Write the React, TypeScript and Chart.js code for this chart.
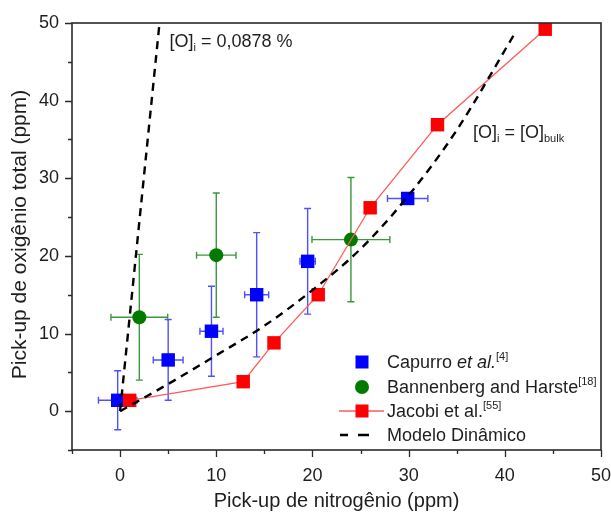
import React, { useEffect, useRef } from 'react';
import { Chart, registerables } from 'chart.js';

Chart.register(...registerables);

// Capurro et al. — blue squares with x/y error bars
const capurroX = [-0.25, 5.0, 9.5, 14.2, 19.5, 29.9];
const capurroY = [1.4, 6.6, 10.3, 15.0, 19.3, 27.4];
const capurroXErr = [2.0, 1.55, 1.2, 1.25, 0.8, 2.1];
const capurroYErr = [3.8, 5.2, 5.8, 8.0, 6.8, 0];

// Bannenberg and Harste — green circles with x/y error bars
const bannenbergX = [2.0, 10.0, 24.0];
const bannenbergY = [12.1, 20.1, 22.1];
const bannenbergXErr = [2.95, 2.05, 4.05];
const bannenbergYErr = [8.1, 8.0, 8.0];

// Jacobi et al. — red squares joined by a line
const jacobiX = [1.0, 12.8, 16.0, 20.6, 26.0, 33.0, 44.2];
const jacobiY = [1.4, 3.8, 8.8, 15.0, 26.2, 36.9, 49.2];

// Modelo dinâmico, [O]i = [O]bulk
const modelX = [0, 5, 10, 15, 20, 25, 30, 35, 41.2];
const modelY = [0, 3.5, 7.2, 11.0, 15.6, 20.9, 27.8, 36.2, 49.0];

// Modelo dinâmico, [O]i = 0,0878 %
const steepX = [0, 4.1];
const steepY = [0, 50];

// Axes
const xRange = [-5, 50];
const yRange = [-5, 50];
const xTicks = [-5, 0, 5, 10, 15, 20, 25, 30, 35, 40, 45, 50];
const yTicks = [-5, 0, 5, 10, 15, 20, 25, 30, 35, 40, 45, 50];
const xTickLabels = [0, 10, 20, 30, 40, 50];
const yTickLabels = [0, 10, 20, 30, 40, 50];

const xTitle = 'Pick-up de nitrogênio (ppm)';
const yTitle = 'Pick-up de oxigênio total (ppm)';

const FONT = '"Liberation Sans", Arial, Helvetica, sans-serif';
const TEXT = '#1e1e1e';
const BLUE = '#0000ff';
const BLUE_ERR = '#5050ff';
const GREEN = '#007a00';
const GREEN_ERR = '#3c963c';
const RED = '#ff0000';
const RED_LINE = '#ff5a5a';

const pts = (xs: number[], ys: number[]) => xs.map((x, i) => ({ x, y: ys[i] }));

type Seg = { t: string; size: number; style?: string; dy?: number };

function drawRich(ctx: CanvasRenderingContext2D, segs: Seg[], x: number, y: number) {
  let cx = x;
  ctx.textAlign = 'left';
  ctx.textBaseline = 'alphabetic';
  for (const s of segs) {
    ctx.font = `${s.style ? s.style + ' ' : ''}${s.size}px ${FONT}`;
    ctx.fillText(s.t, cx, y + (s.dy || 0));
    cx += ctx.measureText(s.t).width;
  }
}

function drawErrorBars(
  chart: any,
  xs: number[], ys: number[], xe: number[], ye: number[], color: string
) {
  const ctx: CanvasRenderingContext2D = chart.ctx;
  const sx = chart.scales.x;
  const sy = chart.scales.y;
  const cap = 3.5;
  ctx.save();
  ctx.strokeStyle = color;
  ctx.lineWidth = 1.4;
  xs.forEach((x, i) => {
    const px = sx.getPixelForValue(x);
    const py = sy.getPixelForValue(ys[i]);
    if (ye[i] > 0) {
      const t = sy.getPixelForValue(ys[i] + ye[i]);
      const b = sy.getPixelForValue(ys[i] - ye[i]);
      ctx.beginPath();
      ctx.moveTo(px, t); ctx.lineTo(px, b);
      ctx.moveTo(px - cap, t); ctx.lineTo(px + cap, t);
      ctx.moveTo(px - cap, b); ctx.lineTo(px + cap, b);
      ctx.stroke();
    }
    if (xe[i] > 0) {
      const l = sx.getPixelForValue(x - xe[i]);
      const r = sx.getPixelForValue(x + xe[i]);
      ctx.beginPath();
      ctx.moveTo(l, py); ctx.lineTo(r, py);
      ctx.moveTo(l, py - cap); ctx.lineTo(l, py + cap);
      ctx.moveTo(r, py - cap); ctx.lineTo(r, py + cap);
      ctx.stroke();
    }
  });
  ctx.restore();
}

const errorBarPlugin = {
  id: 'errorBars',
  beforeDatasetsDraw(chart: any) {
    drawErrorBars(chart, capurroX, capurroY, capurroXErr, capurroYErr, BLUE_ERR);
    drawErrorBars(chart, bannenbergX, bannenbergY, bannenbergXErr, bannenbergYErr, GREEN_ERR);
  },
};

const framePlugin = {
  id: 'frame',
  afterDatasetsDraw(chart: any) {
    const ctx: CanvasRenderingContext2D = chart.ctx;
    const { left, right, top, bottom } = chart.chartArea;
    const sx = chart.scales.x;
    const sy = chart.scales.y;
    ctx.save();

    // Axis box
    ctx.strokeStyle = '#2a2a2a';
    ctx.lineWidth = 1.6;
    ctx.strokeRect(left, top, right - left, bottom - top);

    // Tick marks (outside, major every 10)
    ctx.lineWidth = 1.3;
    ctx.beginPath();
    xTicks.forEach((v) => {
      const px = Math.round(sx.getPixelForValue(v)) + 0.5;
      const len = v % 10 === 0 ? 7 : 4;
      ctx.moveTo(px, bottom); ctx.lineTo(px, bottom + len);
    });
    yTicks.forEach((v) => {
      const py = Math.round(sy.getPixelForValue(v)) + 0.5;
      const len = v % 10 === 0 ? 7 : 4;
      ctx.moveTo(left, py); ctx.lineTo(left - len, py);
    });
    ctx.stroke();

    // Tick labels
    ctx.fillStyle = TEXT;
    ctx.font = `18px ${FONT}`;
    ctx.textAlign = 'center';
    ctx.textBaseline = 'middle';
    xTickLabels.forEach((v) => ctx.fillText(String(v), sx.getPixelForValue(v), bottom + 26));
    ctx.textAlign = 'right';
    yTickLabels.forEach((v) => ctx.fillText(String(v), left - 13, sy.getPixelForValue(v)));

    // Axis titles
    ctx.font = `20px ${FONT}`;
    ctx.textAlign = 'center';
    ctx.fillText(xTitle, (left + right) / 2, bottom + 51);
    ctx.save();
    ctx.font = `21px ${FONT}`;
    ctx.translate(20, (top + bottom) / 2 - 2);
    ctx.rotate(-Math.PI / 2);
    ctx.fillText(yTitle, 0, 0);
    ctx.restore();

    // Line annotations
    drawRich(ctx, [
      { t: '[O]', size: 18 },
      { t: 'i', size: 11, dy: 4 },
      { t: ' = 0,0878 %', size: 18 },
    ], sx.getPixelForValue(steepX[1]) + 10, top + 24);
    drawRich(ctx, [
      { t: '[O]', size: 18 },
      { t: 'i', size: 11, dy: 4 },
      { t: ' = [O]', size: 18 },
      { t: 'bulk', size: 11, dy: 4 },
    ], 473, 138);

    // Legend
    const mx = 362;
    const tx = 387;
    const rows = [362, 387, 411, 435];
    // Capurro
    ctx.fillStyle = BLUE;
    ctx.fillRect(mx - 6.5, rows[0] - 6.5, 13, 13);
    // Bannenberg
    ctx.fillStyle = GREEN;
    ctx.beginPath();
    ctx.arc(mx, rows[1], 7, 0, Math.PI * 2);
    ctx.fill();
    // Jacobi
    ctx.strokeStyle = RED_LINE;
    ctx.lineWidth = 1.3;
    ctx.beginPath();
    ctx.moveTo(339, rows[2]); ctx.lineTo(384, rows[2]);
    ctx.stroke();
    ctx.fillStyle = RED;
    ctx.fillRect(mx - 6.5, rows[2] - 6.5, 13, 13);
    // Modelo
    ctx.strokeStyle = '#000';
    ctx.lineWidth = 2.4;
    ctx.beginPath();
    ctx.moveTo(340, rows[3]); ctx.lineTo(348, rows[3]);
    ctx.moveTo(358, rows[3]); ctx.lineTo(369, rows[3]);
    ctx.stroke();

    ctx.fillStyle = TEXT;
    const base = 6;
    drawRich(ctx, [
      { t: 'Capurro ', size: 18 },
      { t: 'et al.', size: 18, style: 'italic' },
      { t: '[4]', size: 11, dy: -8 },
    ], tx, rows[0] + base);
    drawRich(ctx, [
      { t: 'Bannenberg and Harste', size: 18 },
      { t: '[18]', size: 11, dy: -8 },
    ], tx, rows[1] + base);
    drawRich(ctx, [
      { t: 'Jacobi et al.', size: 18 },
      { t: '[55]', size: 11, dy: -8 },
    ], tx, rows[2] + base);
    drawRich(ctx, [{ t: 'Modelo Dinâmico', size: 18 }], tx, rows[3] + base);

    ctx.restore();
  },
};

export default function App() {
  const ref = useRef<HTMLCanvasElement>(null);

  useEffect(() => {
    if (!ref.current) return;
    const chart = new Chart(ref.current, {
      type: 'scatter',
      data: {
        datasets: [
          {
            label: 'Modelo Dinâmico',
            type: 'line',
            data: pts(modelX, modelY),
            borderColor: '#000',
            borderWidth: 2.4,
            borderDash: [8, 6],
            pointRadius: 0,
            cubicInterpolationMode: 'monotone',
            order: 0,
          } as any,
          {
            label: '[O]i = 0,0878 %',
            type: 'line',
            data: pts(steepX, steepY),
            borderColor: '#000',
            borderWidth: 2.4,
            borderDash: [8, 6],
            pointRadius: 0,
            order: 0,
          } as any,
          {
            label: 'Jacobi et al.',
            type: 'line',
            data: pts(jacobiX, jacobiY),
            borderColor: RED_LINE,
            borderWidth: 1.3,
            pointStyle: 'rect',
            pointRadius: 9.5,
            pointBackgroundColor: RED,
            pointBorderColor: RED,
            pointBorderWidth: 0,
            order: 1,
          } as any,
          {
            label: 'Bannenberg and Harste',
            data: pts(bannenbergX, bannenbergY),
            pointStyle: 'circle',
            pointRadius: 7,
            backgroundColor: GREEN,
            borderColor: GREEN,
            borderWidth: 0,
            order: 2,
          },
          {
            label: 'Capurro et al.',
            data: pts(capurroX, capurroY),
            pointStyle: 'rect',
            pointRadius: 9.5,
            backgroundColor: BLUE,
            borderColor: BLUE,
            borderWidth: 0,
            order: 3,
          },
        ],
      },
      options: {
        animation: false,
        responsive: false,
        events: [],
        layout: { padding: { left: 72, top: 23, right: 10, bottom: 63 } },
        plugins: { legend: { display: false }, tooltip: { enabled: false } },
        scales: {
          x: { type: 'linear', min: xRange[0], max: xRange[1], display: false },
          y: { type: 'linear', min: yRange[0], max: yRange[1], display: false },
        },
      },
      plugins: [errorBarPlugin, framePlugin],
    });
    return () => chart.destroy();
  }, []);

  return (
    <canvas
      ref={ref}
      width={611}
      height={513}
      style={{ position: 'fixed', left: 0, top: 0, background: '#fff' }}
    />
  );
}
